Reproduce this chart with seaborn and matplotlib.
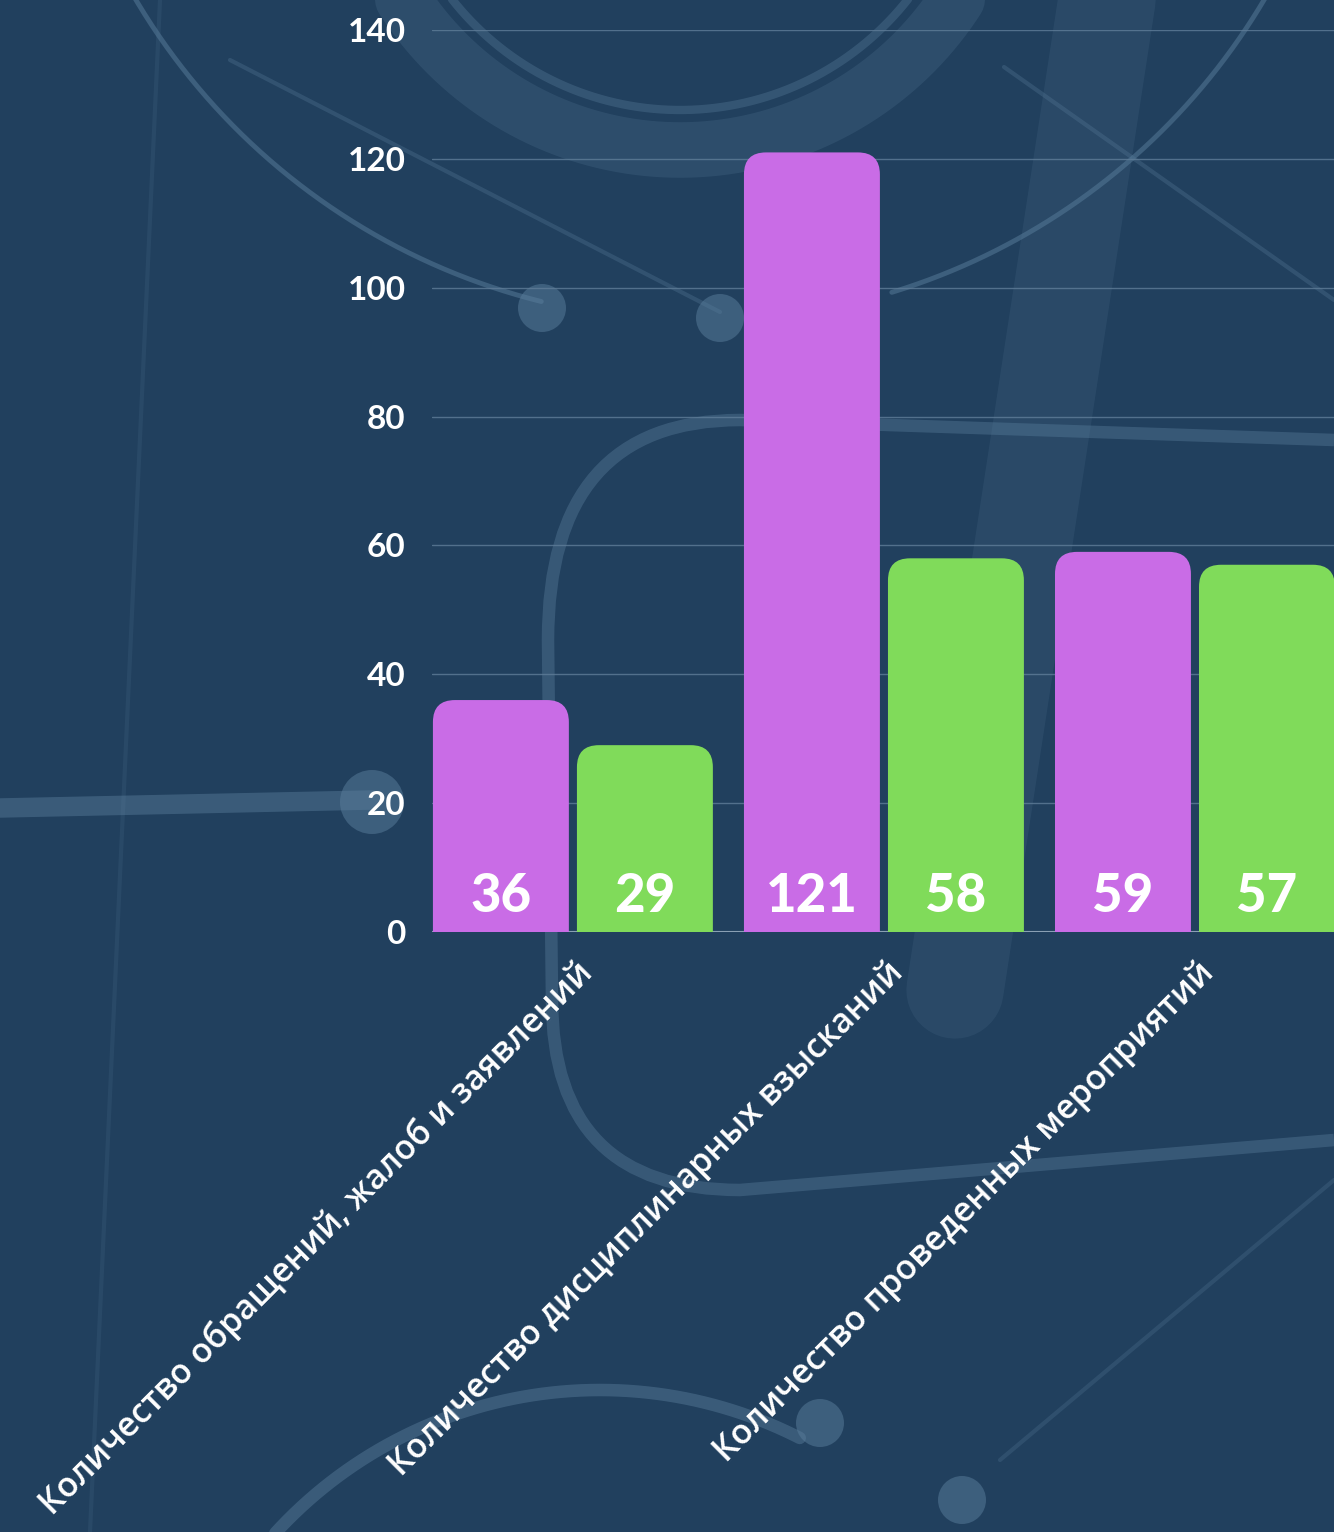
import numpy as np
import pandas as pd
import seaborn as sns
import matplotlib.pyplot as plt
from matplotlib.patches import FancyBboxPatch, Circle, PathPatch
from matplotlib.path import Path
from matplotlib.transforms import ScaledTranslation

# data
categories = [
    "Количество обращений, жалоб и заявлений",
    "Количество дисциплинарных взысканий",
    "Количество проведенных мероприятий",
]
series = ["Период 1", "Период 2"]
values_1 = [36, 121, 59]
values_2 = [29, 58, 57]
y_ticks = [0, 20, 40, 60, 80, 100, 120, 140]

BG = "#21405e"
DECO = "#5a7e9c"
PURPLE = "#c96ce6"
GREEN = "#80db5a"

df = pd.DataFrame({
    "category": categories * 2,
    "series": [series[0]] * 3 + [series[1]] * 3,
    "value": values_1 + values_2,
})

sns.set_theme(style="dark")
plt.rcParams["font.family"] = ["Lato", "DejaVu Sans"]

fig = plt.figure(figsize=(13.34, 15.32), dpi=100)
fig.patch.set_facecolor(BG)

# decorative background, in pixel coordinates
bg = fig.add_axes([0, 0, 1, 1], zorder=0)
bg.set_xlim(0, 1334)
bg.set_ylim(1532, 0)
bg.axis("off")
bg.set_facecolor(BG)


def arc(cx, cy, r, a0, a1, lw, alpha):
    t = np.radians(np.linspace(a0, a1, 300))
    bg.plot(cx + r * np.cos(t), cy + r * np.sin(t), color=DECO, lw=lw,
            alpha=alpha, solid_capstyle="round")


def line(pts, lw, alpha):
    pts = np.array(pts)
    bg.plot(pts[:, 0], pts[:, 1], color=DECO, lw=lw, alpha=alpha,
            solid_capstyle="round")


arc(700, -335, 656, 28, 73, 3.5, 0.5)           # thin large U, right part
arc(700, -335, 656, 104, 152, 3.5, 0.5)         # thin large U, left part
arc(680, -180, 330, 15, 165, 40, 0.22)         # wide ring
arc(680, -180, 290, 15, 165, 6, 0.35)
arc(600, 1830, 440, 222, 297, 9, 0.45)         # bottom arc
line([(1110, -20), (955, 990)], 70, 0.16)      # wide band
line([(230, 60), (720, 312)], 3, 0.3)
line([(1004, 67), (1334, 300)], 3, 0.3)
line([(1334, 1180), (1000, 1460)], 3, 0.25)
line([(160, 0), (90, 1532)], 3, 0.15)
line([(0, 808), (372, 800)], 14, 0.45)
loop = Path(
    [(1334, 440), (740, 420), (548, 420), (548, 640), (552, 1000),
     (552, 1190), (740, 1190), (1334, 1140)],
    [Path.MOVETO, Path.LINETO, Path.CURVE3, Path.CURVE3, Path.LINETO,
     Path.CURVE3, Path.CURVE3, Path.LINETO],
)
bg.add_patch(PathPatch(loop, fill=False, ec=DECO, lw=9, alpha=0.4))
for (cx, cy, r) in [(542, 308, 24), (720, 318, 24), (372, 802, 32),
                    (820, 1423, 24), (962, 1500, 24)]:
    bg.add_patch(Circle((cx, cy), r, color=DECO, alpha=0.5, lw=0))

# main chart
ax = fig.add_axes([432 / 1334, 600 / 1532, 902 / 1334, 902 / 1532], zorder=1)
ax.set_facecolor("none")

sns.barplot(data=df, x="category", y="value", hue="series",
            palette=[PURPLE, GREEN], width=0.926, gap=0.056,
            saturation=1, legend=False, ax=ax, zorder=2)

ax.set_xlim(-0.453, 2.447)
ax.set_ylim(0, 140)

# rounded bar tops
xr = 2.9 / 902
yr = 140 / 902
asp = yr / xr
for cont in ax.containers:
    for bar, v in zip(cont, cont.datavalues):
        x, w, h = bar.get_x(), bar.get_width(), bar.get_height()
        bar.set_visible(False)
        ax.add_patch(FancyBboxPatch(
            (x, -20), w, h + 20,
            boxstyle=f"round,pad=0,rounding_size={22 * xr}",
            mutation_aspect=asp, fc=bar.get_facecolor(), ec="none", zorder=3))
        ax.text(x + w / 2, 3.1, f"{int(v)}", ha="center", va="baseline",
                color="white", fontsize=38, fontweight="black", zorder=4)

ax.set_yticks(y_ticks)
ax.yaxis.grid(True, color="#5f7d98", lw=1, alpha=0.8)
ax.set_axisbelow(True)
ax.axhline(0, color="#8aa0b4", lw=1.5, zorder=2.5)
for s in ax.spines.values():
    s.set_visible(False)

ax.tick_params(axis="y", length=0, pad=19, labelsize=24, labelcolor="white")
ax.tick_params(axis="x", length=0, pad=17, labelcolor="white")
for lbl in ax.get_yticklabels():
    lbl.set_fontweight("bold")
offset = ScaledTranslation(0.02, 0, fig.dpi_scale_trans)
for lbl in ax.get_xticklabels():
    lbl.set_family(["Open Sans", "DejaVu Sans"])
    lbl.set_fontsize(24.5)
    lbl.set_fontweight("semibold")
    lbl.set_rotation(45)
    lbl.set_ha("right")
    lbl.set_rotation_mode("anchor")
    lbl.set_transform(lbl.get_transform() + offset)
ax.set_xlabel("")
ax.set_ylabel("")

fig.savefig("out.png", dpi=100, facecolor=BG)
